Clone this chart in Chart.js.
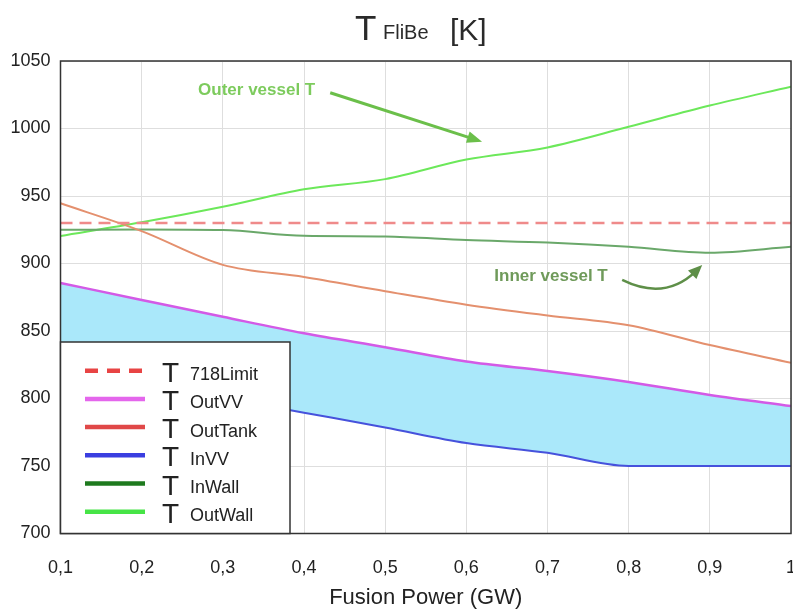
<!DOCTYPE html>
<html>
<head>
<meta charset="utf-8">
<script src="https://cdn.jsdelivr.net/npm/chart.js@4.4.1/dist/chart.umd.min.js"></script>
<style>
  html, body { margin: 0; padding: 0; background: #fff; }
</style>
</head>
<body>
<canvas id="fusion-canvas" width="793" height="611"></canvas>
<script>
// fusion power (GW) and temperatures (K)
let power      = [0.1, 0.2, 0.3, 0.4, 0.5, 0.6, 0.7, 0.8, 0.9, 1.0];
let t718Limit  = [930, 930, 930, 930, 930, 930, 930, 930, 930, 930];
let tOutVV     = [885.6, 873, 860.5, 848.3, 838, 827.4, 820.4, 812.3, 802.6, 794.4];
let tOutTank   = [944.6, 924, 899, 890, 879.5, 869.5, 861.5, 854.3, 839.6, 826.5];
let tInVV      = [824, 812, 800.5, 789.5, 778.5, 767, 759.8, 750, 750, 750];
let tInWall    = [925, 925.2, 924.8, 920.5, 920, 917.4, 915.5, 912.4, 908, 912.4];
let tOutWall   = [920.4, 930.5, 942, 955, 962.5, 977, 986, 1001.3, 1017, 1031];

let seriesNames = ['718Limit', 'OutVV', 'OutTank', 'InVV', 'InWall', 'OutWall'];
let xTicks      = [0.1, 0.2, 0.3, 0.4, 0.5, 0.6, 0.7, 0.8, 0.9, 1.0];
let yTicks      = [700, 750, 800, 850, 900, 950, 1000, 1050];

// plot colours and the (brighter) legend swatch colours
let lineColors   = ['#ef8a8a', '#d35ae6', '#e4906e', '#4652dc', '#6aa86a', '#6ce85a'];
let legendColors = ['#e84444', '#e466ec', '#e04848', '#3a3ee0', '#1e7a1e', '#46e446'];
let FONT = '"Liberation Sans", Arial, sans-serif';

function pts(values) {
  return power.map((p, i) => ({x: p, y: values[i]}));
}

let allSeries = [t718Limit, tOutVV, tOutTank, tInVV, tInWall, tOutWall];
let datasets = allSeries.map((vals, i) => ({
  label: seriesNames[i],
  data: pts(vals),
  borderColor: lineColors[i],
  backgroundColor: lineColors[i],
  borderWidth: (i < 2) ? 2.5 : 2,
  borderDash: i === 0 ? [12, 7] : [],
  tension: (i === 3) ? 0 : 0.3,
  cubicInterpolationMode: 'monotone',
  pointRadius: 0,
  fill: false,
}));
// band between OutVV and InVV
datasets[1].fill = 3;
datasets[1].backgroundColor = '#aae8fa';

let frame = {
  id: 'frame',
  afterDatasetsDraw(chart) {
    let {ctx, chartArea: a} = chart;
    ctx.save();
    ctx.strokeStyle = '#333';
    ctx.lineWidth = 1.5;
    ctx.strokeRect(a.left, a.top, a.right - a.left, a.bottom - a.top);
    ctx.restore();
  }
};

function arrowHead(ctx, x, y, ang, len, wid) {
  ctx.beginPath();
  ctx.moveTo(x, y);
  ctx.lineTo(x - len * Math.cos(ang) + wid * Math.sin(ang), y - len * Math.sin(ang) - wid * Math.cos(ang));
  ctx.lineTo(x - len * Math.cos(ang) - wid * Math.sin(ang), y - len * Math.sin(ang) + wid * Math.cos(ang));
  ctx.closePath();
  ctx.fill();
}

let notes = {
  id: 'notes',
  afterDatasetsDraw(chart) {
    let {ctx} = chart;
    let sx = chart.scales.x, sy = chart.scales.y;
    let X = v => sx.getPixelForValue(v), Y = v => sy.getPixelForValue(v);
    ctx.save();
    ctx.font = 'bold 17px ' + FONT;
    ctx.textBaseline = 'middle';
    ctx.textAlign = 'left';
    // outer vessel
    ctx.fillStyle = '#7dcb5d';
    ctx.fillText('Outer vessel T', X(0.2695), Y(1028.5));
    let x0 = X(0.4323), y0 = Y(1026.5), x1 = X(0.6194), y1 = Y(990.2);
    let ang = Math.atan2(y1 - y0, x1 - x0);
    ctx.strokeStyle = '#6bbf4a';
    ctx.fillStyle = '#6bbf4a';
    ctx.lineWidth = 3;
    ctx.beginPath();
    ctx.moveTo(x0, y0);
    ctx.lineTo(x1 - 10 * Math.cos(ang), y1 - 10 * Math.sin(ang));
    ctx.stroke();
    arrowHead(ctx, x1, y1, ang, 15, 6);
    // inner vessel
    ctx.fillStyle = '#6f9a5a';
    ctx.fillText('Inner vessel T', X(0.6345), Y(890.2));
    let a0 = X(0.792), b0 = Y(887.8), ac = X(0.845), bc = Y(872), a1 = X(0.8906), b1 = Y(898.9);
    let ang2 = Math.atan2(b1 - bc, a1 - ac);
    ctx.strokeStyle = '#5e8f48';
    ctx.fillStyle = '#5e8f48';
    ctx.lineWidth = 2.5;
    ctx.beginPath();
    ctx.moveTo(a0, b0);
    ctx.quadraticCurveTo(ac, bc, a1 - 8 * Math.cos(ang2), b1 - 8 * Math.sin(ang2));
    ctx.stroke();
    arrowHead(ctx, a1, b1, ang2, 14, 6);
    ctx.restore();
  }
};

let legendBox = {
  id: 'legendBox',
  afterDraw(chart) {
    let {ctx, chartArea: a} = chart;
    let left = a.left, top = 342, right = 290, bottom = a.bottom;
    ctx.save();
    ctx.fillStyle = '#fff';
    ctx.fillRect(left, top, right - left, bottom - top);
    ctx.strokeStyle = '#333';
    ctx.lineWidth = 1.5;
    ctx.strokeRect(left, top, right - left, bottom - top);
    seriesNames.forEach((name, i) => {
      let y = 370.7 + i * 28.2;
      ctx.strokeStyle = legendColors[i];
      ctx.lineWidth = 4.5;
      ctx.setLineDash(i === 0 ? [13, 9] : []);
      ctx.beginPath();
      ctx.moveTo(85, y);
      ctx.lineTo(145, y);
      ctx.stroke();
      ctx.setLineDash([]);
      ctx.fillStyle = '#222';
      ctx.textBaseline = 'alphabetic';
      ctx.textAlign = 'left';
      ctx.font = '28px ' + FONT;
      ctx.fillText('T', 162, y + 11);
      ctx.font = '18px ' + FONT;
      ctx.fillText(name, 190, y + 9.5);
    });
    ctx.restore();
  }
};

let bigTitle = {
  id: 'bigTitle',
  afterDraw(chart) {
    let {ctx} = chart;
    ctx.save();
    ctx.fillStyle = '#2a2a2a';
    ctx.textBaseline = 'alphabetic';
    ctx.textAlign = 'left';
    ctx.font = '35px ' + FONT;
    ctx.fillText('T', 355, 40);
    ctx.font = '20px ' + FONT;
    ctx.fillText('FliBe', 383, 39);
    ctx.font = '30px ' + FONT;
    ctx.fillText('[K]', 450, 40);
    ctx.restore();
  }
};

let ctx = document.getElementById('fusion-canvas').getContext('2d');
window.fusionChart = new Chart(ctx, {
  type: 'line',
  data: { datasets: datasets },
  options: {
    responsive: false,
    animation: false,
    devicePixelRatio: 1,
    layout: { padding: { top: 61, right: 2, bottom: 0, left: 0 } },
    plugins: {
      legend: { display: false },
      title: { display: false },
      tooltip: { enabled: false },
      filler: { drawTime: 'beforeDatasetsDraw' },
    },
    scales: {
      x: {
        type: 'linear',
        min: xTicks[0],
        max: xTicks[xTicks.length - 1],
        afterFit(s) { s.height = 77.5; s.paddingLeft = 0; s.paddingRight = 0; },
        afterBuildTicks(s) { s.ticks = xTicks.map(v => ({value: v})); },
        ticks: {
          padding: 24,
          color: '#222',
          font: { family: FONT, size: 18 },
          maxRotation: 0,
          callback: v => (Math.round(v * 10) / 10).toString().replace('.', ','),
        },
        grid: { color: '#dedede', drawTicks: false },
        border: { display: false },
        title: {
          display: true,
          text: 'Fusion Power (GW)',
          color: '#222',
          font: { family: FONT, size: 22 },
          padding: 0,
        },
      },
      y: {
        min: yTicks[0],
        max: yTicks[yTicks.length - 1],
        afterFit(s) { s.width = 60.5; s.paddingTop = 0; s.paddingBottom = 0; },
        afterBuildTicks(s) { s.ticks = yTicks.map(v => ({value: v})); },
        ticks: {
          padding: 10,
          color: '#222',
          font: { family: FONT, size: 18 },
          callback: v => String(v),
        },
        grid: { color: '#dedede', drawTicks: false },
        border: { display: false },
      },
    },
  },
  plugins: [frame, notes, legendBox, bigTitle],
});
</script>
</body>
</html>
